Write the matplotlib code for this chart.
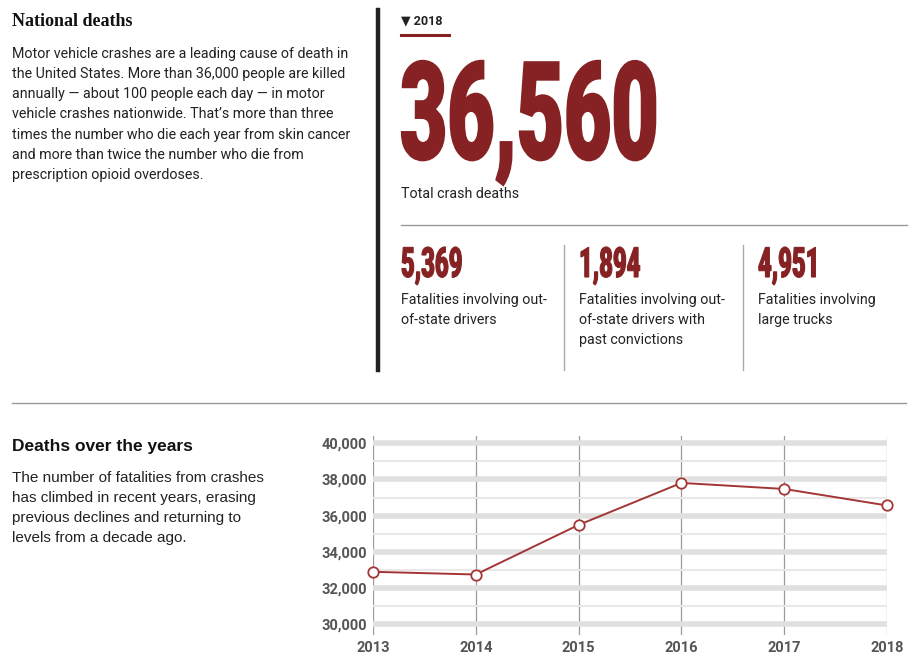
import matplotlib
matplotlib.use("Agg")
import matplotlib.pyplot as plt
from matplotlib.lines import Line2D
from matplotlib.patheffects import AbstractPathEffect
from matplotlib.transforms import Affine2D
from matplotlib.ticker import FuncFormatter

# Data
years = [2013, 2014, 2015, 2016, 2017, 2018]
deaths = [32894, 32744, 35485, 37806, 37473, 36560]
total_deaths = 36560
stat_values = [5369, 1894, 4951]
stat_labels = [
    "Fatalities involving out-\nof-state drivers",
    "Fatalities involving out-\nof-state drivers with\npast convictions",
    "Fatalities involving\nlarge trucks",
]
intro_text = ("Motor vehicle crashes are a leading cause of death in\n"
              "the United States. More than 36,000 people are killed\n"
              "annually \u2014 about 100 people each day \u2014 in motor\n"
              "vehicle crashes nationwide. That\u2019s more than three\n"
              "times the number who die each year from skin cancer\n"
              "and more than twice the number who die from\n"
              "prescription opioid overdoses.")
chart_text = ("The number of fatalities from crashes\n"
              "has climbed in recent years, erasing\n"
              "previous declines and returning to\n"
              "levels from a decade ago.")

RED = "#862223"
W, H = 918, 669


class Squeeze(AbstractPathEffect):
    """draw text glyphs narrower (fake condensed face), optional outline to thicken"""
    def __init__(self, sx, stroke=0):
        super().__init__()
        self.sx = sx
        self.stroke = stroke

    def draw_path(self, renderer, gc, tpath, affine, rgbFace=None):
        tr = Affine2D().scale(self.sx, 1) + affine
        if self.stroke:
            gc0 = renderer.new_gc()
            gc0.copy_properties(gc)
            gc0.set_linewidth(self.stroke)
            gc0.set_foreground(rgbFace)
            gc0.set_joinstyle("miter")
            renderer.draw_path(gc0, tpath, tr, rgbFace)
            gc0.restore()
        else:
            renderer.draw_path(gc, tpath, tr, rgbFace)


def px(x, y):
    return x / W, 1 - y / H


fig = plt.figure(figsize=(W / 100, H / 100), dpi=100)

# left column text
fig.text(*px(12, 22), "National deaths", family="Liberation Serif", weight="bold",
         size=13, va="center", ha="left", color="#111")
fig.text(*px(12, 47), intro_text, family="Roboto", size=10.3, va="top", ha="left",
         color="#222", linespacing=1.56)

# black vertical bar
fig.add_artist(Line2D([378 / W, 378 / W], [1 - 10 / H, 1 - 370 / H], color="#222", lw=3.2,
                      transform=fig.transFigure))

# year selector
fig.text(*px(401, 21), "\u25bc 2018", family=["Roboto", "DejaVu Sans"], weight="bold",
         size=9, va="center", ha="left", color="#222")
fig.add_artist(Line2D([401 / W, 449 / W], [1 - 35 / H, 1 - 35 / H], color=RED, lw=2.2,
                      transform=fig.transFigure))

# big number
fig.text(*px(400, 159), f"{total_deaths:,}", family="Roboto", weight="black", size=98,
         va="baseline", ha="left", color=RED, path_effects=[Squeeze(0.6, stroke=1.5)])
fig.text(*px(401, 194), "Total crash deaths", family="Roboto", size=10.3, va="center",
         ha="left", color="#222")

# separator above stats
fig.add_artist(Line2D([401 / W, 907 / W], [1 - 225 / H, 1 - 225 / H], color="#999", lw=1,
                      transform=fig.transFigure))

stat_x = [401, 579, 758]
for i, (sx, val, lab) in enumerate(zip(stat_x, stat_values, stat_labels)):
    fig.text(*px(sx, 277), f"{val:,}", family="Roboto", weight="black", size=30,
             va="baseline", ha="left", color=RED, path_effects=[Squeeze(0.57, stroke=0.8)])
    fig.text(*px(sx, 293), lab, family="Roboto", size=10.3, va="top", ha="left",
             color="#222", linespacing=1.56)
    if i > 0:
        fig.add_artist(Line2D([(sx - 15) / W, (sx - 15) / W], [1 - 245 / H, 1 - 370 / H],
                              color="#aaa", lw=1, transform=fig.transFigure))

# full-width separator
fig.add_artist(Line2D([12 / W, 906 / W], [1 - 403 / H, 1 - 403 / H], color="#999", lw=1,
                      transform=fig.transFigure))

# lower left text
fig.text(*px(12, 446), "Deaths over the years", family="Liberation Sans", weight="bold",
         size=12.5, va="center", ha="left", color="#111")
fig.text(*px(12, 471), chart_text, family="Liberation Sans", size=11, va="top",
         ha="left", color="#222", linespacing=1.56)

# line chart
ax = fig.add_axes([373 / W, 1 - 635 / H, (887 - 373) / W, (635 - 436) / H])
ax.plot(years, deaths, color="#a33535", lw=1.4, marker="o", markersize=7.5,
        markerfacecolor="white", markeredgecolor="#a33535", markeredgewidth=1.3,
        clip_on=False, zorder=5)
ax.set_xlim(2013, 2018)
ax.set_ylim(29400, 40400)
ax.set_xticks(years)
ax.set_yticks(range(30000, 40001, 2000))
ax.set_yticks(range(31000, 40000, 2000), minor=True)
ax.yaxis.set_major_formatter(FuncFormatter(lambda v, p: f"{int(v):,}"))
ax.grid(axis="y", which="major", color="#e0e0e0", lw=4)
ax.grid(axis="y", which="minor", color="#e8e8e8", lw=1.5)
ax.grid(axis="x", color="#9a9a9a", lw=0.9)
ax.set_axisbelow(True)
for s in ax.spines.values():
    s.set_visible(False)
ax.tick_params(which="both", length=0)
ax.tick_params(axis="y", pad=4)
ax.tick_params(axis="x", pad=4)
for lab in ax.get_xticklabels() + ax.get_yticklabels():
    lab.set_family("Roboto")
    lab.set_weight("bold")
    lab.set_size(10.5)
    lab.set_color("#555")

fig.savefig("out.png", dpi=100, facecolor="white")
